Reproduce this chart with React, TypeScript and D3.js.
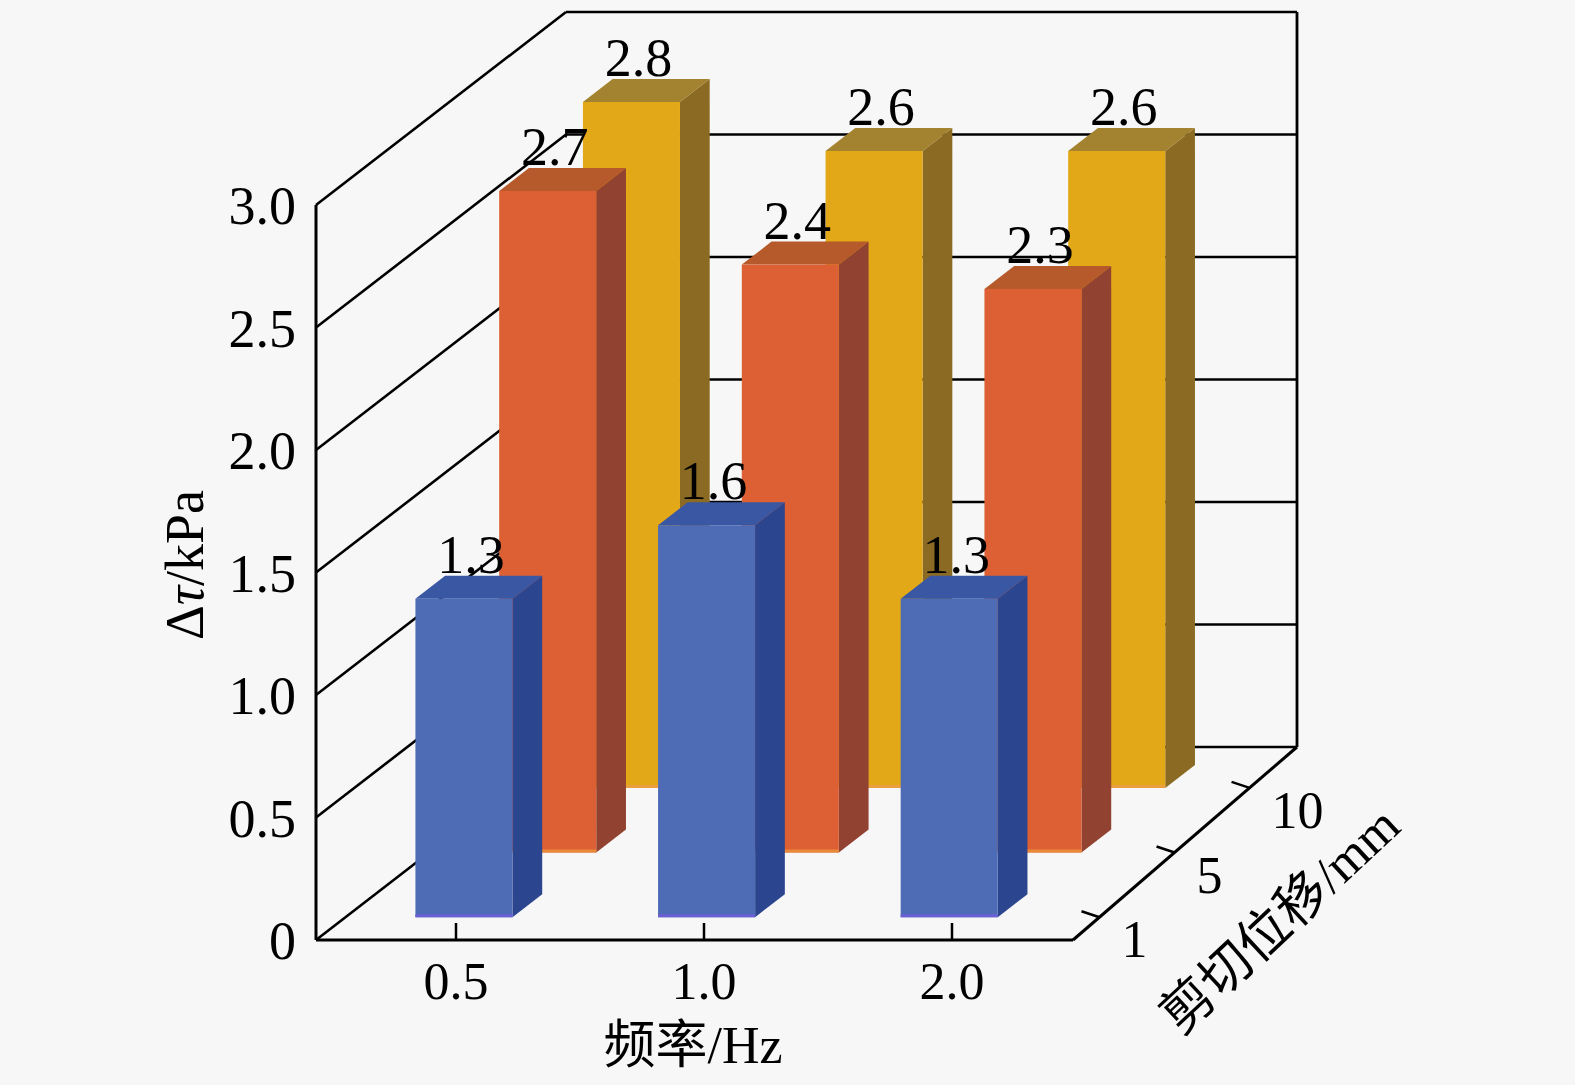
import React from 'react';
import * as d3 from 'd3';

// frequency categories (x) and shear-displacement rows (depth)
const categories = ['0.5', '1.0', '2.0'];
const seriesNames = ['1', '5', '10'];
const values1mm = [1.3, 1.6, 1.3];
const values5mm = [2.7, 2.4, 2.3];
const values10mm = [2.8, 2.6, 2.6];
const yTicks = [0, 0.5, 1.0, 1.5, 2.0, 2.5, 3.0];
const yTickLabels = ['0', '0.5', '1.0', '1.5', '2.0', '2.5', '3.0'];

const W = 1575;
const H = 1085;
const ox = 316;          // front-left floor corner
const oy = 940;
const frontW = 757;      // front floor width
const backW = 731;       // back wall width
const depthDx = 250;
const depthDy = -193;

const faceColors = [
  { front: '#4e6bb6', side: '#2b458f', top: '#3a57a3', edge: '#6c5fd4' },
  { front: '#dc6034', side: '#914230', top: '#b65a2c', edge: '#e88a3a' },
  { front: '#e2a817', side: '#8b6b23', top: '#a3832f', edge: '#eaa040' },
];

const serif = '"Liberation Serif", "Times New Roman", serif';
const cjk = '"Liberation Serif", "Noto Sans CJK SC", serif';

const App: React.FC = () => {
  const rows = [values1mm, values5mm, values10mm];

  const yScale = d3.scaleLinear().domain([0, 3]).range([0, 735]);
  const xBand = d3.scaleBand<string>()
    .domain(categories)
    .range([0, frontW])
    .paddingInner(0.6)
    .paddingOuter(0.36)
    .align(0.4);
  const depth = d3.scaleBand<string>()
    .domain(seriesNames)
    .range([0, 1])
    .paddingInner(0.645)
    .paddingOuter(0.315)
    .align(0.56);
  const xTick = d3.scalePoint<string>().domain(categories).range([140, 636]);

  const P = (x: number, v: number, t: number): [number, number] => [
    ox + x + depthDx * t,
    oy - yScale(v) + depthDy * t,
  ];
  const pts = (a: [number, number][]) => a.map(p => p.join(',')).join(' ');
  const line = d3.line();

  const bw = xBand.bandwidth();
  const bd = depth.bandwidth();

  return (
    <div style={{ position: 'fixed', left: 0, top: 0 }}>
      <svg width={W} height={H} style={{ display: 'block' }}>
        <rect width={W} height={H} fill="#f7f7f7" />

        {/* left wall grid */}
        {yTicks.map(v => (
          <path key={'lw' + v} d={line([P(0, v, 0), P(0, v, 1)]) || ''}
            stroke="#000" strokeWidth={2.6} fill="none" />
        ))}
        {/* back wall grid */}
        {yTicks.map(v => (
          <path key={'bw' + v} d={line([P(0, v, 1), P(backW, v, 1)]) || ''}
            stroke="#000" strokeWidth={2.6} fill="none" />
        ))}
        <path d={line([P(backW, 0, 1), P(backW, 3, 1)]) || ''} stroke="#000" strokeWidth={2.8} />
        <path d={line([P(0, 0, 0), P(0, 3, 0)]) || ''} stroke="#000" strokeWidth={3} />
        <path d={line([P(0, 0, 0), P(frontW, 0, 0)]) || ''} stroke="#000" strokeWidth={3} />
        <path d={line([P(frontW, 0, 0), P(backW, 0, 1)]) || ''} stroke="#000" strokeWidth={3} />

        {/* x ticks */}
        {categories.map(c => {
          const x = ox + (xTick(c) as number);
          return (
            <g key={'xt' + c}>
              <line x1={x} x2={x} y1={oy} y2={oy - 17} stroke="#000" strokeWidth={2.5} />
              <text x={x} y={999} textAnchor="middle" fontFamily={serif} fontSize={52}>{c}</text>
            </g>
          );
        })}

        {/* y tick labels */}
        {yTicks.map((v, i) => {
          const [, y] = P(0, v, 0);
          return (
            <text key={'yt' + v} x={296} y={y + 19} textAnchor="end" fontFamily={serif} fontSize={54}>
              {yTickLabels[i]}
            </text>
          );
        })}

        {/* depth ticks + labels */}
        {seriesNames.map(s => {
          const t = depth(s) as number;
          const [x, y] = P(frontW + (backW - frontW) * t, 0, t);
          return (
            <g key={'dt' + s}>
              <line x1={x} y1={y} x2={x - 18} y2={y - 6} stroke="#000" strokeWidth={2.5} />
              <text x={x + 22} y={y + 40} fontFamily={serif} fontSize={52}>{s}</text>
            </g>
          );
        })}

        {/* bars, back row first */}
        {[2, 1, 0].map(r => {
          const s = seriesNames[r];
          const t0 = depth(s) as number;
          const t1 = t0 + bd;
          const col = faceColors[r];
          return (
            <g key={'row' + s}>
              {categories.map((c, i) => {
                const v = rows[r][i];
                const x0 = xBand(c) as number;
                const x1 = x0 + bw;
                const front: [number, number][] = [P(x0, 0, t0), P(x1, 0, t0), P(x1, v, t0), P(x0, v, t0)];
                const side: [number, number][] = [P(x1, 0, t0), P(x1, 0, t1), P(x1, v, t1), P(x1, v, t0)];
                const top: [number, number][] = [P(x0, v, t0), P(x1, v, t0), P(x1, v, t1), P(x0, v, t1)];
                const [fx0, fy0] = P(x0, 0, t0);
                const [fx1] = P(x1, 0, t0);
                const [, topBackY] = P(x0, v, t1);
                return (
                  <g key={'bar' + s + c}>
                    <polygon points={pts(side)} fill={col.side} />
                    <polygon points={pts(top)} fill={col.top} />
                    <polygon points={pts(front)} fill={col.front} />
                    <line x1={fx0} x2={fx1} y1={fy0 - 1.5} y2={fy0 - 1.5} stroke={col.edge} strokeWidth={3} />
                    <text x={(fx0 + fx1) / 2 + 7} y={topBackY - 3} textAnchor="middle"
                      fontFamily={serif} fontSize={54}>{v.toFixed(1)}</text>
                  </g>
                );
              })}
            </g>
          );
        })}

        {/* axis titles */}
        <text x={693} y={1063} textAnchor="middle" fontFamily={cjk} fontSize={52}>频率/Hz</text>
        <text transform="translate(203,565) rotate(-90)" textAnchor="middle" fontFamily={serif} fontSize={54}>
          Δ<tspan fontStyle="italic">τ</tspan>/kPa
        </text>
        <text transform="translate(1280,920) rotate(-43)" textAnchor="middle" dominantBaseline="central"
          fontFamily={cjk} fontSize={52}>剪切位移/mm</text>
      </svg>
    </div>
  );
};

export default App;
